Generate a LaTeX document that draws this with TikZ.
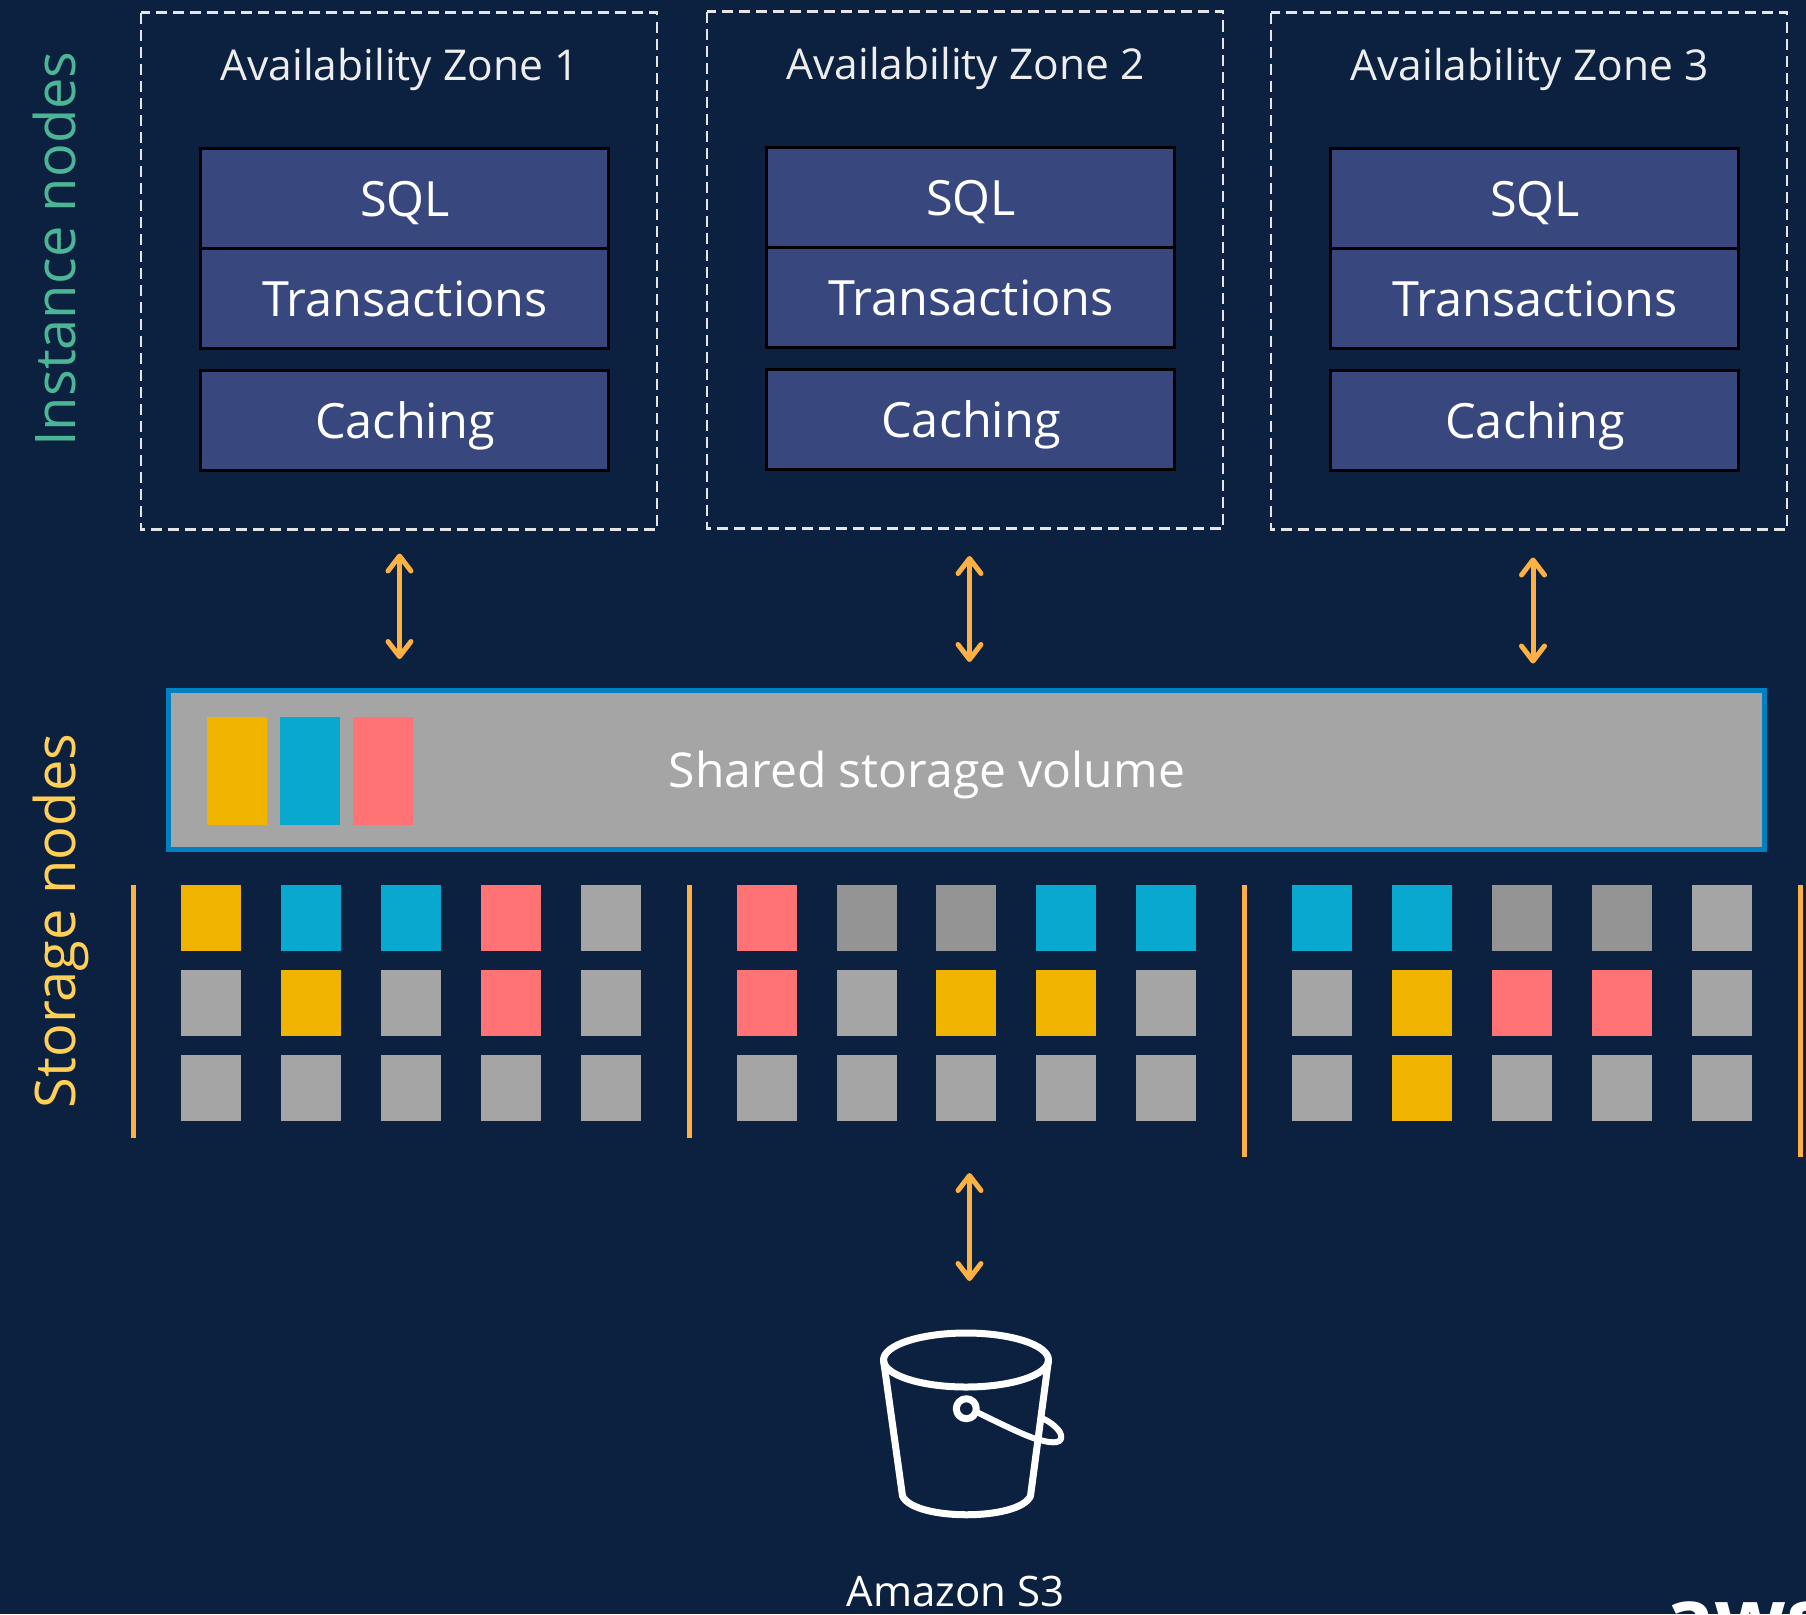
\documentclass[tikz,border=0pt]{standalone}
\usepackage{fontspec}
\setmainfont{Open Sans}
\usetikzlibrary{arrows.meta}
\definecolor{bg}{HTML}{0C2140}
\definecolor{navybox}{HTML}{39477F}
\definecolor{gold}{HTML}{F0B400}
\definecolor{teal}{HTML}{09A8CF}
\definecolor{coral}{HTML}{FF7375}
\definecolor{tile}{HTML}{A5A5A5}
\definecolor{darktile}{HTML}{949494}
\definecolor{amber}{HTML}{FFB042}
\definecolor{edgeblue}{HTML}{0080C0}
\definecolor{mint}{HTML}{4BB596}
\definecolor{sun}{HTML}{FFCF56}
\tikzset{
  zonebox/.style={draw=white!90!black,line width=2.5pt,dash pattern=on 11pt off 6pt},
  layer/.style={draw=black,line width=3pt,fill=navybox},
  lbl/.style={text=white,inner sep=0pt,anchor=base,font=\fontsize{48.6}{49}\selectfont},
  zlbl/.style={text=white!93!black,inner sep=0pt,anchor=base,font=\fontsize{42.5}{43}\selectfont},
  side/.style={inner sep=0pt,rotate=90,anchor=base,font=\fontsize{56}{56}\selectfont},
  link/.style={draw=amber,line width=5pt,{Straight Barb[length=15pt,width=23pt,round]}-{Straight Barb[length=15pt,width=23pt,round]}},
  rule/.style={draw=amber,line width=5pt},
  bucket/.style={draw=white,line width=7pt,line join=round,line cap=round},
  tilebox/.style={inner sep=0pt,minimum width=60pt,minimum height=66pt,anchor=north west},
  stripe/.style={inner sep=0pt,minimum width=60pt,minimum height=108pt,anchor=north west}
}
\begin{document}
\begin{tikzpicture}[x=1pt,y=-1pt]
\useasboundingbox (0,0) rectangle (1806,1614);
\clip (0,0) rectangle (1806,1614);
\fill[bg] (0,0) rectangle (1806,1614);

% side labels
\node[side,text=mint] (inst) at (75,249) {Instance nodes};
\node[side,text=sun] (stor) at (75,921) {Storage nodes};

% availability zones
\foreach \n/\dx/\dy in {1/0/0,2/566/-1,3/1130/0}{
  \begin{scope}[shift={(\dx,\dy)}]
    \draw[zonebox] (141,12.5) rectangle (657,529.5);
    \node[zlbl] (az\n) at (399.5,80) {Availability Zone \n};
    \node[layer,inner sep=0pt,minimum width=408.5pt,minimum height=99.5pt] (sql\n) at (404.25,198.5) {};
    \node[layer,inner sep=0pt,minimum width=408.5pt,minimum height=100.5pt] (tx\n) at (404.25,298.4) {};
    \node[layer,inner sep=0pt,minimum width=408.5pt,minimum height=100pt] (cache\n) at (404.25,420) {};
    \node[lbl] (sqlt\n) at (405,216.5) {SQL};
    \node[lbl] (txt\n) at (405,316.5) {Transactions};
    \node[lbl] (cachet\n) at (405,438) {Caching};
  \end{scope}
}

% shared storage volume
\node[draw=edgeblue,line width=5pt,fill=tile,inner sep=0pt,minimum width=1596pt,minimum height=159pt] (vol) at (966.5,770) {};
\node[lbl,font=\fontsize{48}{48}\selectfont] (volt) at (927,787) {Shared storage volume};
\node[stripe,fill=gold] (s1) at (207,717) {};
\node[stripe,fill=teal] (s2) at (280,717) {};
\node[stripe,fill=coral] (s3) at (353,717) {};

% arrows
\coordinate (a1t) at (399.5,553.5); \coordinate (a1b) at (399.5,659);
\coordinate (a2t) at (969.5,556);   \coordinate (a2b) at (969.5,662);
\coordinate (a3t) at (1533,557.5);  \coordinate (a3b) at (1533,663.5);
\coordinate (a4t) at (969.5,1173);  \coordinate (a4b) at (969.5,1281);
\draw[link] (a1t) -- (a1b);
\draw[link] (a2t) -- (a2b);
\draw[link] (a3t) -- (a3b);
\draw[link] (a4t) -- (a4b);

% storage tiles
\foreach \g/\ox/\sx/\list in {
  1/181/100/{gold,teal,teal,coral,tile,tile,gold,tile,coral,tile,tile,tile,tile,tile,tile},
  2/736.5/99.8/{coral,darktile,darktile,teal,teal,coral,tile,gold,gold,tile,tile,tile,tile,tile,tile},
  3/1292/100/{teal,teal,darktile,darktile,tile,tile,gold,coral,coral,tile,tile,gold,tile,tile,tile}}{
  \foreach \c [count=\i from 0] in \list {
    \pgfmathtruncatemacro{\col}{mod(\i,5)}
    \pgfmathtruncatemacro{\row}{int(\i/5)}
    \node[tilebox,fill=\c] (t\g-\i) at ({\ox+\sx*\col},{885+85*\row}) {};
  }
}

% group rules
\coordinate (r1t) at (133.5,885);  \coordinate (r1b) at (133.5,1138);
\coordinate (r2t) at (689,885);    \coordinate (r2b) at (689,1138);
\coordinate (r3t) at (1244.5,885); \coordinate (r3b) at (1244.5,1157);
\coordinate (r4t) at (1800,885);   \coordinate (r4b) at (1800,1157);
\draw[rule] (r1t) -- (r1b);
\draw[rule] (r2t) -- (r2b);
\draw[rule] (r3t) -- (r3b);
\draw[rule] (r4t) -- (r4b);

% bucket
\draw[bucket] (966,1360) ellipse [x radius=82.5pt,y radius=27pt];
\draw[bucket] (883.5,1360) -- (902.5,1496) .. controls (914,1521) and (1019,1521) .. (1030.5,1496) -- (1048.5,1360);
\draw[bucket] (966.3,1408.7) circle [radius=10pt];
\draw[bucket,line width=6pt] (976.7,1412) .. controls (1005,1426) and (1030,1438) .. (1040,1440) .. controls (1054,1444) and (1063,1443) .. (1061,1435) .. controls (1060,1430) and (1052,1423) .. (1044,1419);

\node[zlbl,text=white,font=\fontsize{42}{42}\selectfont] (s3t) at (955.5,1606) {Amazon S3};
\node[text=white,inner sep=0pt,anchor=base west,font=\fontsize{84}{84}\selectfont\bfseries] (aws) at (1664,1648) {aws};
\end{tikzpicture}
\end{document}
